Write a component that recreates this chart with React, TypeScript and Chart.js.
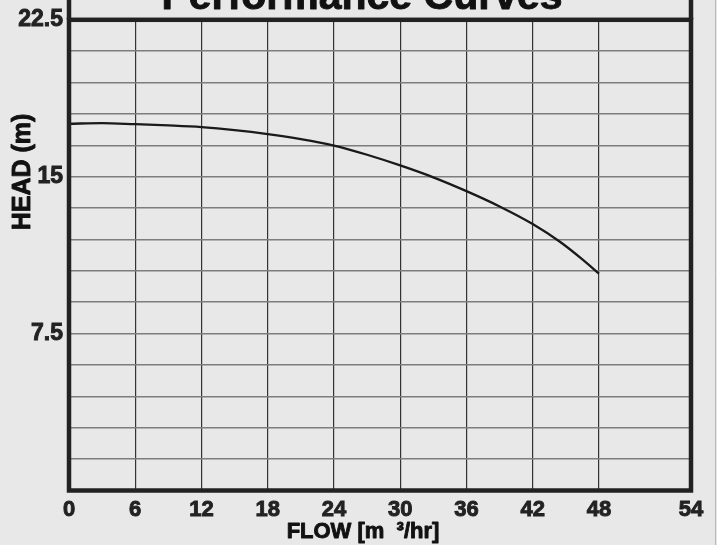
import { useEffect, useRef } from 'react';
import { Chart, registerables } from 'chart.js';

Chart.register(...registerables);

// ---- data ----
const flow = [0, 3, 6, 9, 12, 15, 18, 21, 24, 27, 30, 33, 36, 39, 42, 44.5, 46.5, 48];
const head = [17.53, 17.56, 17.51, 17.45, 17.37, 17.23, 17.04, 16.8, 16.49, 16.05, 15.54, 14.97, 14.31, 13.58, 12.74, 11.88, 11.05, 10.37];
const xTickLabels = ['0', '6', '12', '18', '24', '30', '36', '42', '48', '54'];
const xGridValues = [0, 6, 12, 18, 24, 30, 36, 42, 48];
const yLabelled = ['7.5', '15', '22.5'];
const titleText = 'Performance Curves';
const xTitle = 'FLOW [m  \u00B3/hr]';
const yTitle = 'HEAD (m)';

// visual extent of the x axis (the last column in the reference is drawn wider)
const X_AXIS_END = 56.34;

const FONT = '"Liberation Sans", Arial, sans-serif';
const BG = '#e8e8e8';

export default function App() {
  const ref = useRef<HTMLCanvasElement | null>(null);

  useEffect(() => {
    document.body.style.margin = '0';
    document.body.style.background = BG;
    const canvas = ref.current;
    if (!canvas) return;

    const boldText = (ctx: any, text: string, x: number, y: number) => {
      ctx.lineWidth = 0.9;
      ctx.strokeStyle = ctx.fillStyle;
      ctx.lineJoin = 'round';
      ctx.strokeText(text, x, y);
      ctx.fillText(text, x, y);
    };

    const decor = {
      id: 'decor',
      beforeDraw(chart: any) {
        const ctx = chart.ctx;
        ctx.save();
        ctx.fillStyle = BG;
        ctx.fillRect(0, 0, chart.width, chart.height);
        ctx.restore();
      },
      afterDraw(chart: any) {
        const ctx = chart.ctx;
        const a = chart.chartArea;
        ctx.save();
        // faint edge line at right
        ctx.strokeStyle = '#b8b8b8';
        ctx.lineWidth = 1;
        ctx.beginPath();
        ctx.moveTo(715.5, 0);
        ctx.lineTo(715.5, chart.height);
        ctx.stroke();
        // thick frame
        ctx.strokeStyle = '#222';
        ctx.lineWidth = 4.5;
        ctx.lineJoin = 'miter';
        ctx.strokeRect(a.left, a.top, a.right - a.left, a.bottom - a.top);
        ctx.beginPath();
        ctx.moveTo(a.left, 0);
        ctx.lineTo(a.left, a.top);
        ctx.moveTo(a.right, 0);
        ctx.lineTo(a.right, a.top);
        ctx.stroke();
        // title (cut off at the top)
        ctx.fillStyle = '#111';
        ctx.font = `bold 41px ${FONT}`;
        ctx.textAlign = 'center';
        ctx.textBaseline = 'alphabetic';
        boldText(ctx, titleText, 362, 9);
        // x title
        ctx.font = `bold 22px ${FONT}`;
        boldText(ctx, xTitle, 363, 538);
        // y title
        ctx.translate(23, 172);
        ctx.rotate(-Math.PI / 2);
        ctx.textBaseline = 'middle';
        ctx.font = `bold 25px ${FONT}`;
        boldText(ctx, yTitle, 0, 0);
        ctx.restore();
      },
    };

    const tickFont = { family: FONT, size: 22, weight: 'bold' };

    const chart = new Chart(canvas, {
      type: 'line',
      data: {
        datasets: [
          {
            data: flow.map((x, i) => ({ x, y: head[i] })),
            borderColor: '#1a1a1a',
            borderWidth: 2.3,
            pointRadius: 0,
            fill: false,
            cubicInterpolationMode: 'monotone',
          },
        ],
      },
      options: {
        animation: false,
        responsive: false,
        layout: { padding: { top: 15.8, right: 26, left: 0, bottom: 0 } },
        plugins: {
          legend: { display: false },
          tooltip: { enabled: false },
          title: { display: false },
        },
        scales: {
          x: {
            type: 'linear',
            min: 0,
            max: X_AXIS_END,
            afterBuildTicks: (scale: any) => {
              scale.ticks = [...xGridValues, X_AXIS_END].map((v) => ({ value: v }));
            },
            afterFit: (scale: any) => {
              scale.height = 54.5;
            },
            ticks: {
              autoSkip: false,
              maxRotation: 0,
              padding: 6,
              color: '#222',
              textStrokeColor: '#222',
              textStrokeWidth: 0.9,
              font: tickFont,
              callback: (_v: any, i: number) => xTickLabels[i],
            },
            grid: { color: '#333', lineWidth: 1.2, drawTicks: false },
            border: { display: false },
          },
          y: {
            type: 'linear',
            min: 0,
            max: 22.5,
            afterFit: (scale: any) => {
              scale.width = 69;
            },
            ticks: {
              stepSize: 1.5,
              padding: 6,
              color: '#222',
              textStrokeColor: '#222',
              textStrokeWidth: 0.9,
              font: { family: FONT, size: 23, weight: 'bold' },
              callback: (v: any) => {
                const s = String(Math.round(Number(v) * 10) / 10);
                return yLabelled.includes(s) ? s : '';
              },
            },
            grid: { color: '#7d7d7d', lineWidth: 1.6, drawTicks: false },
            border: { display: false },
          },
        },
      },
      plugins: [decor],
    } as any);

    return () => chart.destroy();
  }, []);

  return (
    <div style={{ position: 'fixed', left: 0, top: 0, width: 717, height: 545, background: BG }}>
      <canvas ref={ref} width={717} height={545} style={{ width: 717, height: 545, display: 'block' }} />
    </div>
  );
}
